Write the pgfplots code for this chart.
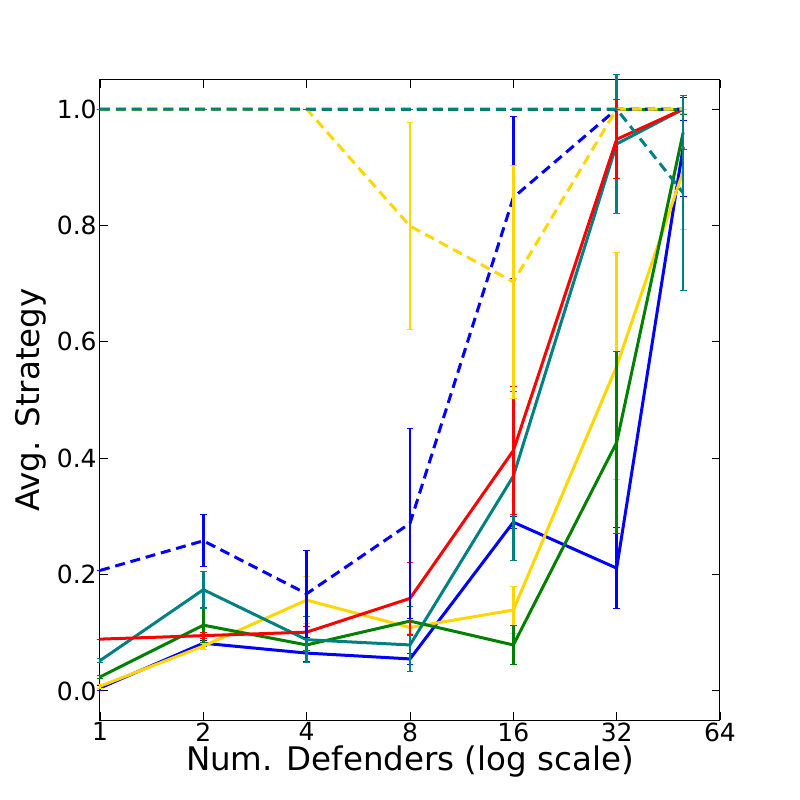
\documentclass[border=0pt]{standalone}
\usepackage{pgfplots}
\pgfplotsset{compat=1.18}
\usepackage{fontspec}
\setmainfont{DejaVu Sans}
\definecolor{mblue}{RGB}{0,0,255}
\definecolor{mred}{RGB}{255,0,0}
\definecolor{mteal}{RGB}{0,128,128}
\definecolor{mgreen}{RGB}{0,128,0}
\definecolor{mgold}{RGB}{255,215,0}
\begin{document}
\begin{tikzpicture}
\path[use as bounding box] (0pt,0pt) rectangle (480pt,480pt);
\begin{axis}[
  at={(60pt,48pt)}, anchor=south west,
  scale only axis, width=372pt, height=384pt,
  xmode=log, log basis x=2,
  xmin=1, xmax=64, ymin=-0.05, ymax=1.05,
  xtick={1,2,4,8,16,32,64}, xticklabels={1,2,4,8,16,32,64},
  ytick={0,0.2,0.4,0.6,0.8,1.0},
  yticklabel style={xshift=1.5pt},
  y tick label style={/pgf/number format/.cd,fixed,fixed zerofill,precision=1},
  /pgf/number format/assume math mode=true,
  tick label style={font=\fontsize{15pt}{17pt}\selectfont},
  xlabel={Num. Defenders (log scale)},
  ylabel={Avg. Strategy},
  tick align=inside, major tick length=5pt, minor tick num=0,
  tick style={black, line width=0.5pt},
  axis line style={line width=0.6pt},
  xticklabel style={yshift=2pt},
  every axis x label/.style={at={(axis description cs:0.5,0)}, anchor=north, yshift=-12pt, font=\fontsize{19.5pt}{22pt}\selectfont},
  every axis y label/.style={at={(axis description cs:0,0.5)}, anchor=south, rotate=90, yshift=29pt, font=\fontsize{19.5pt}{22pt}\selectfont},
  clip=false,
  every axis plot/.append style={line width=1.8pt, mark=none},
  error bars/y dir=both, error bars/y explicit, error bars/error mark=-,
  error bars/error bar style={line width=1.5pt, solid},
  error bars/error mark options={line width=0.6pt, mark size=2pt, rotate=90, solid},
]
% solid
\addplot[mblue] table[x=x,y=y,y error=e]{
x y e
1 0.005 0.005
2 0.082 0.005
4 0.065 0.015
8 0.055 0.010
16 0.290 0.010
32 0.211 0.070
50 0.935 0.085
};
\addplot[mgold] table[x=x,y=y,y error=e]{
x y e
1 0.008 0.003
2 0.077 0.005
4 0.156 0.040
8 0.109 0.010
16 0.139 0.040
32 0.558 0.195
50 0.893 0.100
};
\addplot[mgreen] table[x=x,y=y,y error=e]{
x y e
1 0.024 0.003
2 0.113 0.030
4 0.079 0.010
8 0.120 0.025
16 0.079 0.033
32 0.427 0.157
50 0.960 0.030
};
\addplot[mteal] table[x=x,y=y,y error=e]{
x y e
1 0.052 0.003
2 0.174 0.032
4 0.088 0.040
8 0.079 0.045
16 0.369 0.145
32 0.940 0.120
50 1.000 0.000
};
\addplot[mred] table[x=x,y=y,y error=e]{
x y e
1 0.089 0.000
2 0.095 0.005
4 0.101 0.010
8 0.159 0.062
16 0.413 0.110
32 0.948 0.068
50 1.000 0.000
};
% dashed
\addplot[mred, dash pattern=on 6pt off 3.5pt] table[x=x,y=y,y error=e]{
x y e
1 1 0
2 1 0
4 1 0
8 1 0
16 1 0
32 1 0
50 1 0
};
\addplot[mgreen, dash pattern=on 6pt off 3.5pt] table[x=x,y=y,y error=e]{
x y e
1 1 0
2 1 0
4 1 0
8 1 0
16 1 0
32 1 0
50 1 0
};
\addplot[mblue, dash pattern=on 6pt off 3.5pt] table[x=x,y=y,y error=e]{
x y e
1 0.207 0.000
2 0.258 0.045
4 0.167 0.075
8 0.288 0.163
16 0.848 0.140
32 1.000 0.000
50 1.000 0.020
};
\addplot[mgold, dash pattern=on 6pt off 3.5pt] table[x=x,y=y,y error=e]{
x y e
1 1.000 0.000
2 1.000 0.000
4 1.000 0.000
8 0.799 0.178
16 0.703 0.200
32 1.000 0.000
50 1.000 0.000
};
\addplot[mteal, dash pattern=on 6pt off 3.5pt] table[x=x,y=y,y error=e]{
x y e
1 1 0
2 1 0
4 1 0
8 1 0
16 1 0
32 1 0
50 0.856 0.168
};
\end{axis}
\end{tikzpicture}
\end{document}
